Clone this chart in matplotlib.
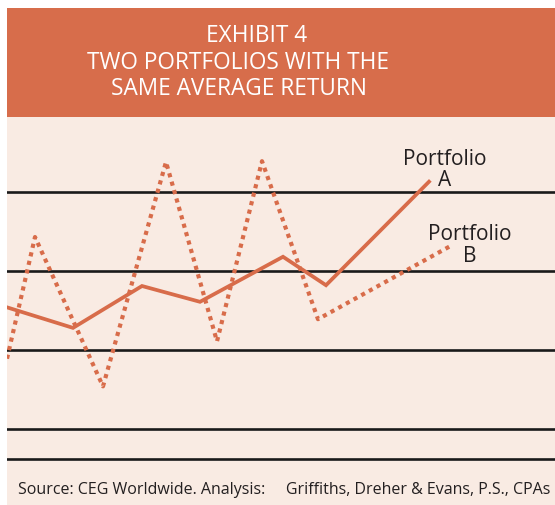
import matplotlib.pyplot as plt
from matplotlib.patches import Rectangle

# Portfolio A (solid) - time, return
a_time = [0, 6.6, 13.5, 19.3, 27.6, 31.9, 42.2]
a_ret = [5.4, 2.8, 8.1, 6.1, 11.8, 8.2, 21.3]

# Portfolio B (dotted)
b_time = [0, 2.8, 9.6, 15.9, 21.0, 25.5, 31.1, 44.4]
b_ret = [-1.1, 14.3, -4.6, 23.8, 1.1, 23.9, 3.9, 13.2]

grid_levels = [20, 10, 0, -10, -13.8]

title_lines = ["EXHIBIT 4", "TWO PORTFOLIOS WITH THE", "SAME AVERAGE RETURN"]
source_text = "Source: CEG Worldwide. Analysis:     Griffiths, Dreher & Evans, P.S., CPAs"

orange = "#D86C4A"
header = "#D76D4B"
peach = "#F9EBE3"
font = "Open Sans"

W, H = 555, 506
fig = plt.figure(figsize=(W / 100, H / 100), dpi=100, facecolor="white")

# header band and light background
fig.patches.append(Rectangle((7 / W, 0), 1 - 7 / W, (H - 118) / H,
                             transform=fig.transFigure, facecolor=peach, edgecolor="none", zorder=-2))
fig.patches.append(Rectangle((7 / W, (H - 118) / H), 1 - 7 / W, (118 - 9) / H,
                             transform=fig.transFigure, facecolor=header, edgecolor="none", zorder=-2))

title_x = [257, 238, 239]
title_y = [36, 63, 89]
for txt, tx, ty in zip(title_lines, title_x, title_y):
    fig.text(tx / W, 1 - ty / H, txt, color="white", fontsize=16.3, family=font,
             ha="center", va="center")

ax = fig.add_axes([7 / W, (H - 470) / H, 1 - 7 / W, (470 - 118) / H])
ax.set_zorder(1)
ax.patch.set_visible(False)
ax.set_xlim(0, 54.8)
ax.set_ylim(-15.06, 29.49)
ax.axis("off")

for lvl in grid_levels:
    ax.axhline(lvl, color="#1a1a1a", lw=1.9, zorder=1)

ax.plot(a_time, a_ret, color=orange, lw=2.7, solid_joinstyle="miter", zorder=3)
ax.plot(b_time, b_ret, color=orange, lw=3.0, linestyle=(0, (1, 1.1)),
        dash_capstyle="butt", zorder=2)

ax.text(43.8, 22.9, "Portfolio\nA", ha="center", va="center", fontsize=15,
        family=font, color="#231f20", linespacing=1.05)
ax.text(46.3, 13.4, "Portfolio\nB", ha="center", va="center", fontsize=15,
        family=font, color="#231f20", linespacing=1.05)

fig.text(18 / W, 1 - 490 / H, source_text, ha="left", va="center", fontsize=11.5,
         family=font, color="#231f20")

fig.savefig("out.png", dpi=100, facecolor="white")
